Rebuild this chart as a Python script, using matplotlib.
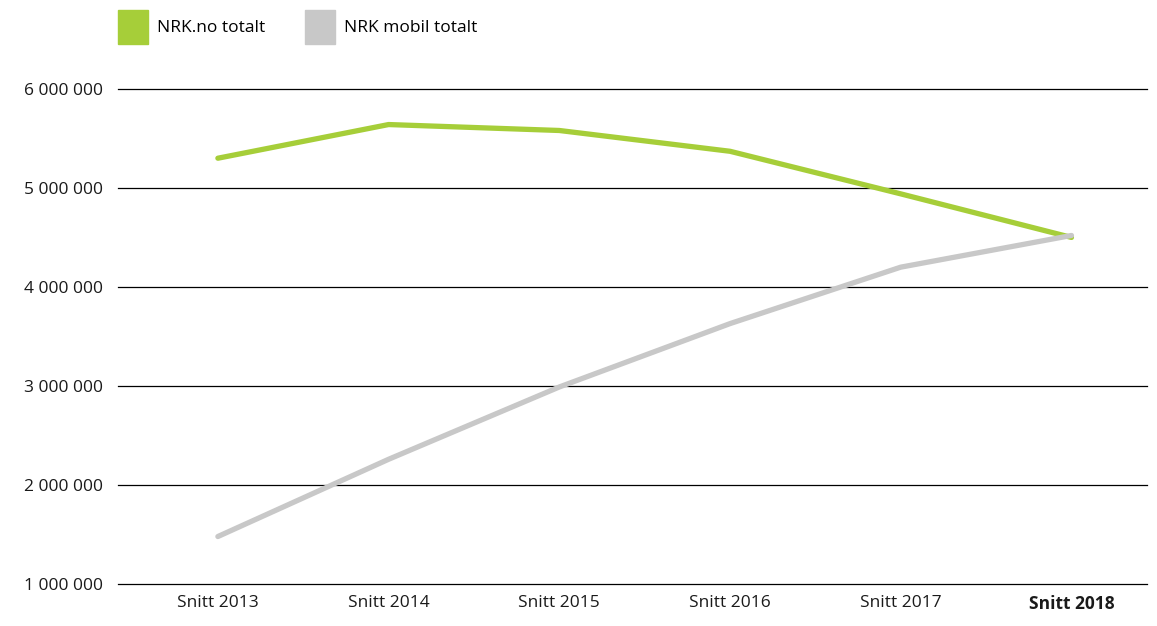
import matplotlib.pyplot as plt
from matplotlib.patches import Patch
from matplotlib.ticker import FuncFormatter

categories = ["Snitt 2013", "Snitt 2014", "Snitt 2015", "Snitt 2016", "Snitt 2017", "Snitt 2018"]
nrk_no = [5300000, 5640000, 5580000, 5370000, 4940000, 4500000]
nrk_mobil = [1480000, 2260000, 2990000, 3630000, 4200000, 4520000]

green = "#A6CE39"
grey = "#C8C8C8"

plt.rcParams['font.family'] = ['Open Sans', 'DejaVu Sans']

fig = plt.figure(figsize=(11.57, 6.26), dpi=100)
ax = fig.add_axes([0.102, 0.067, 0.889, 0.791])

x = list(range(len(categories)))
ax.plot(x, nrk_no, color=green, linewidth=3.8, solid_capstyle='round', zorder=3)
ax.plot(x, nrk_mobil, color=grey, linewidth=3.8, solid_capstyle='round', zorder=3)

ax.set_ylim(1000000, 6000000)
ax.set_xlim(-0.585, 5.44)
ax.set_yticks(range(1000000, 6000001, 1000000))
ax.yaxis.set_major_formatter(FuncFormatter(lambda v, p: f"{int(v):,}".replace(",", " ")))
ax.set_xticks(x)
ax.set_xticklabels(categories)
ax.get_xticklabels()[-1].set_fontweight('bold')

ax.grid(axis='y', color='black', linewidth=0.9)
for gl in ax.get_ygridlines():
    gl.set_clip_on(False)
ax.set_axisbelow(True)
for s in ax.spines.values():
    s.set_visible(False)
ax.tick_params(axis='both', length=0, labelsize=12.5, colors='#1a1a1a')
ax.tick_params(axis='y', pad=11)
ax.tick_params(axis='x', pad=8)

handles = [Patch(color=green, label="NRK.no totalt"), Patch(color=grey, label="NRK mobil totalt")]
fig.legend(handles=handles, loc='upper left', bbox_to_anchor=(0.102, 0.984), ncol=2, frameon=False,
           fontsize=12.5, handlelength=1.72, handleheight=2.65, handletextpad=0.55, columnspacing=2.25,
           borderpad=0, borderaxespad=0)

fig.savefig("out.png", dpi=100)
